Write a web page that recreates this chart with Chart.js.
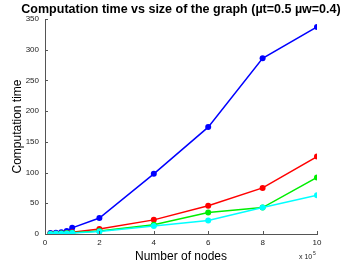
<!DOCTYPE html>
<html>
<head>
<meta charset="utf-8">
<script src="https://cdn.jsdelivr.net/npm/chart.js@4"></script>
<style>
  html, body { margin: 0; padding: 0; background: #fff; }
  #wrap { width: 350px; height: 264px; }
</style>
</head>
<body>
<div id="wrap"><canvas id="c" width="350" height="264"></canvas></div>
<script>
// nodes, in units of 1e5
const nodes = [0.2, 0.4, 0.6, 0.8, 1, 2, 4, 6, 8, 10];

// computation time per series
const blueTimes  = [1.5, 2, 3, 5, 10, 26, 98, 174, 286, 337];
const redTimes   = [0.3, 0.6, 1, 1.5, 3, 8, 23, 46, 75, 126];
const greenTimes = [0.2, 0.5, 0.8, 1.2, 2, 5, 15, 35, 43, 92];
const cyanTimes  = [0.2, 0.4, 0.6, 1, 1.5, 4, 13, 22, 43, 63];

const xTicks = [0, 2, 4, 6, 8, 10];
const yTicks = [0, 50, 100, 150, 200, 250, 300, 350];

const titleText = 'Computation time vs size of the graph (\u00b5t=0.5 \u00b5w=0.4)';

function pts(ys) {
    return nodes.map((x, i) => ({ x: x, y: ys[i] }));
}

function series(ys, color, order) {
    return {
        data: pts(ys),
        borderColor: color,
        backgroundColor: color,
        borderWidth: 1.5,
        pointRadius: 3,
        pointHoverRadius: 3,
        pointBorderWidth: 0,
        order: order
    };
}

const FONT = "'Liberation Sans', Arial, sans-serif";

// MATLAB-style inward ticks, title over the axes and the "x 10^5" multiplier
const matlabBits = {
    id: 'matlabBits',
    afterDraw(chart) {
        const ctx = chart.ctx;
        const a = chart.chartArea;
        const xs = chart.scales.x, ys = chart.scales.y;
        ctx.save();
        ctx.strokeStyle = '#555';
        ctx.lineWidth = 1;
        ctx.beginPath();
        xTicks.forEach(t => {
            const px = Math.round(xs.getPixelForValue(t)) + 0.5;
            ctx.moveTo(px, a.bottom);
            ctx.lineTo(px, a.bottom - 3);
        });
        yTicks.forEach(t => {
            const py = Math.round(ys.getPixelForValue(t)) + 0.5;
            ctx.moveTo(a.left, py);
            ctx.lineTo(a.left + 3, py);
        });
        ctx.stroke();

        ctx.fillStyle = '#000';
        ctx.font = 'bold 12.5px ' + FONT;
        ctx.textAlign = 'center';
        ctx.textBaseline = 'middle';
        ctx.fillText(titleText, (a.left + a.right) / 2, 10);

        ctx.fillStyle = '#222';
        ctx.font = '7px ' + FONT;
        ctx.textBaseline = 'alphabetic';
        ctx.textAlign = 'left';
        ctx.fillText('x 10', 299, 259);
        ctx.font = '5px ' + FONT;
        ctx.fillText('5', 313, 255);
        ctx.restore();
    }
};

new Chart(document.getElementById('c'), {
    type: 'line',
    data: {
        datasets: [
            series(blueTimes, '#0000ff', 3),
            series(redTimes, '#ff0000', 2),
            series(greenTimes, '#00ee00', 1),
            series(cyanTimes, '#00ffff', 0)
        ]
    },
    options: {
        responsive: false,
        animation: false,
        layout: { padding: { left: 0, right: 33, top: 19, bottom: 0 } },
        plugins: {
            legend: { display: false },
            tooltip: { enabled: false },
            title: { display: false }
        },
        scales: {
            x: {
                type: 'linear',
                min: 0,
                max: 10,
                afterBuildTicks: s => { s.ticks = xTicks.map(v => ({ value: v })); },
                afterFit: s => { s.height = 30; },
                grid: { drawOnChartArea: false, drawTicks: false, color: '#555' },
                border: { color: '#555' },
                ticks: {
                    color: '#222',
                    font: { family: FONT, size: 8 },
                    padding: 4,
                    maxRotation: 0
                },
                title: {
                    display: true,
                    text: 'Number of nodes',
                    color: '#000',
                    font: { family: FONT, size: 12 },
                    padding: { top: 0, bottom: 0 }
                }
            },
            y: {
                min: 0,
                max: 350,
                afterBuildTicks: s => { s.ticks = yTicks.map(v => ({ value: v })); },
                afterFit: s => { s.width = 45; },
                grid: { drawOnChartArea: false, drawTicks: false, color: '#555' },
                border: { color: '#555' },
                ticks: {
                    color: '#222',
                    font: { family: FONT, size: 8 },
                    padding: 6
                },
                title: {
                    display: true,
                    text: 'Computation time',
                    color: '#000',
                    font: { family: FONT, size: 12 },
                    padding: { top: 10, bottom: 0 }
                }
            }
        }
    },
    plugins: [matlabBits]
});
</script>
</body>
</html>
